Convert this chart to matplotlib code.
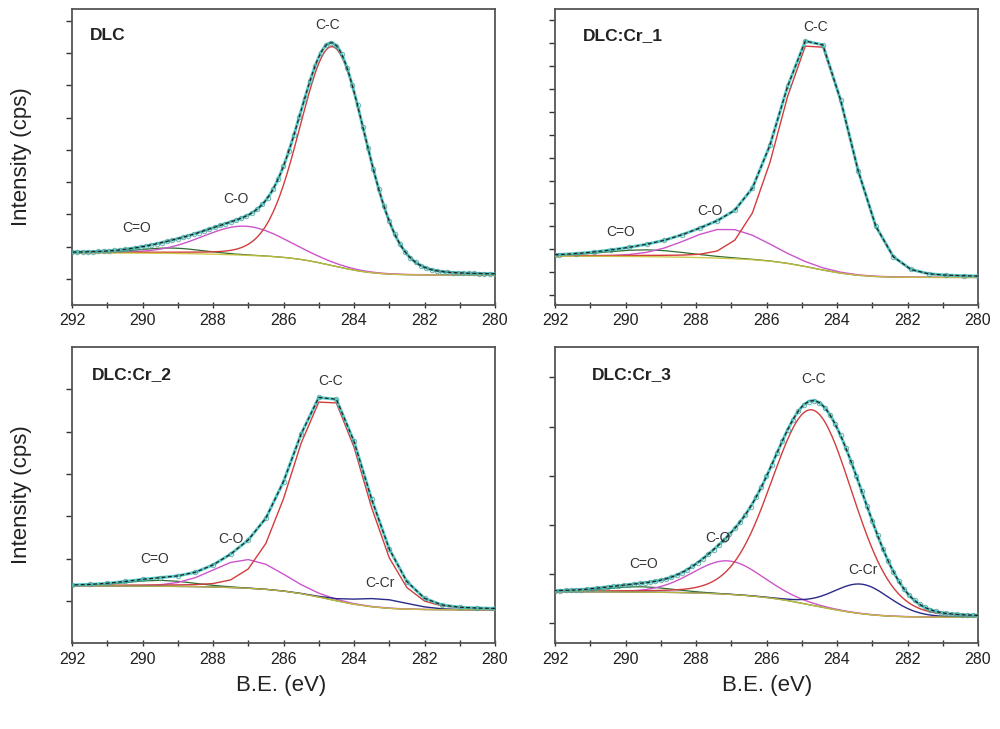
import matplotlib
matplotlib.use("Agg")
import matplotlib.pyplot as plt
import numpy as np

plt.rcParams.update({
    "font.family": ["Liberation Sans", "DejaVu Sans"],
})

# ── panel data (fitted C1s components) ──────────────────────────────────────
panel_names = ["DLC", "DLC:Cr_1", "DLC:Cr_2", "DLC:Cr_3"]

# C-C
cc_pos  = [284.60, 284.63, 284.72, 284.70]
cc_amp  = [74.0, 77.5, 68.5, 66.0]
cc_fwhm = [2.20, 2.30, 2.40, 2.70]
# C-O
co_pos  = [287.10, 287.10, 287.00, 287.10]
co_amp  = [9.8, 10.0, 9.7, 11.3]
co_fwhm = [2.80, 2.70, 2.30, 2.35]
# C=O
cdo_pos  = [289.2, 289.4, 289.5, 289.6]
cdo_amp  = [1.8, 2.3, 2.0, 1.8]
cdo_fwhm = [2.2, 2.8, 2.2, 2.2]
# C-Cr (only Cr_2, Cr_3)
ccr_pos  = [283.2, 283.2, 283.2, 283.3]
ccr_amp  = [0.0, 0.0, 3.0, 10.0]
ccr_fwhm = [1.8, 1.8, 1.8, 1.9]
# Shirley background end levels (high-BE side, low-BE side)
bg_high = [17.6, 16.5, 19.4, 17.4]
bg_low  = [10.1, 9.3, 11.3, 8.8]
# data grid: first point and spacing (eV)
grid_start = [280.0, 280.4, 280.0, 280.0]
step       = [0.05, 0.5, 0.5, 0.05]

# label positions: (BE, intensity)
name_xy = [(291.5, 91.2), (291.2, 91.2), (291.45, 90.9), (290.95, 90.9)]
cc_xy   = [(284.74, 94.6), (284.62, 94.0), (284.67, 88.7), (284.67, 89.3)]
co_xy   = [(287.36, 35.8), (287.61, 31.6), (287.50, 35.2), (287.38, 35.5)]
cdo_xy  = [(290.17, 26.1), (290.14, 24.7), (289.66, 28.4), (289.50, 26.7)]
ccr_xy  = [None, None, (283.26, 20.5), (283.27, 24.8)]

# y tick (start, step) per panel — unlabeled ticks
ytick_start = [8.8, 3.4, 14.3, 6.8]
ytick_step  = [10.9, 7.73, 14.3, 16.6]

C_RED, C_MAG, C_GRN, C_BLU = "#d23c3c", "#cc55cc", "#2f6e2f", "#2a2a88"
C_BG, C_ENV, C_DATA = "#c9c23a", "#3cc4c0", "#4a9e9a"


def pv(x, c, a, w, eta=0.1):
    s = w / 2.3548
    g = np.exp(-(x - c) ** 2 / (2 * s ** 2))
    l = 1.0 / (1.0 + ((x - c) / (w / 2)) ** 2)
    return a * ((1 - eta) * g + eta * l)


fig = plt.figure(figsize=(10.0, 7.29), dpi=100)
lefts = [0.072, 0.555, 0.072, 0.555]
bottoms = [0.5816, 0.5816, 0.1176, 0.1176]

for i in range(4):
    ax = fig.add_axes([lefts[i], bottoms[i], 0.423, 0.406])
    x = np.unique(np.r_[280.0, np.arange(grid_start[i], 292.0 + 1e-6, step[i]), 292.0])
    x = x[(x >= 280.0) & (x <= 292.0)]
    comps = [pv(x, cc_pos[i], cc_amp[i], cc_fwhm[i]),
             pv(x, co_pos[i], co_amp[i], co_fwhm[i]),
             pv(x, cdo_pos[i], cdo_amp[i], cdo_fwhm[i]),
             pv(x, ccr_pos[i], ccr_amp[i], ccr_fwhm[i])]
    tot = sum(comps)
    cum = np.concatenate([[0], np.cumsum((tot[1:] + tot[:-1]) / 2 * np.diff(x))])
    bg = bg_low[i] + (bg_high[i] - bg_low[i]) * cum / cum[-1]
    env = bg + tot

    ax.plot(x, bg + comps[2], color=C_GRN, lw=0.9, zorder=3)
    ax.plot(x, bg + comps[1], color=C_MAG, lw=1.0, zorder=3)
    ax.plot(x, bg + comps[0], color=C_RED, lw=1.0, zorder=3)
    if ccr_amp[i] > 0:
        ax.plot(x, bg + comps[3], color=C_BLU, lw=1.0, zorder=3)
    ax.plot(x, bg, color=C_BG, lw=1.0, zorder=3.5, alpha=0.9)
    ax.plot(x, env, color=C_ENV, lw=2.2, zorder=4, alpha=0.85)
    mk = 3 if step[i] < 0.1 else 1
    ax.plot(x[::mk], env[::mk], ls="none", marker="o", ms=3.2, mfc="none",
            mec=C_DATA, mew=0.7, zorder=5, alpha=0.8)
    ax.plot(x, env, color="#222222", lw=0.9, ls=(0, (3, 2)), zorder=6)

    ax.set_xlim(292, 280)
    ax.set_ylim(0, 100)
    ax.set_xticks(np.arange(280, 293, 2))
    ax.set_xticks(np.arange(281, 292, 2), minor=True)
    ax.set_yticks(np.arange(ytick_start[i], 100, ytick_step[i]))
    ax.set_yticklabels([])
    ax.tick_params(axis="x", direction="inout", length=5, width=1.0,
                   labelsize=11.5, colors="#333333", labelcolor="#222222")
    ax.tick_params(axis="x", which="minor", direction="inout", length=4, width=1.0,
                   colors="#333333")
    ax.tick_params(axis="y", direction="out", length=4, width=1.0, colors="#333333")
    for sp in ax.spines.values():
        sp.set_color("#555555")
        sp.set_linewidth(1.3)

    ax.text(*name_xy[i], panel_names[i], fontsize=12.5, fontweight="bold",
            ha="left", va="center", color="#222222")
    tkw = dict(fontsize=10, ha="center", va="center", color="#333333", zorder=7)
    ax.text(*cc_xy[i], "C-C", **tkw)
    ax.text(*co_xy[i], "C-O", **tkw)
    ax.text(*cdo_xy[i], "C=O", **tkw)
    if ccr_xy[i] is not None:
        ax.text(*ccr_xy[i], "C-Cr", **tkw)

for yc in (0.785, 0.321):
    fig.text(0.022, yc, "Intensity (cps)", rotation=90, ha="center", va="center",
             fontsize=16, color="#222222")
for xc in (0.281, 0.767):
    fig.text(xc, 0.059, "B.E. (eV)", ha="center", va="center",
             fontsize=16, color="#222222")

fig.savefig("out.png", dpi=100)
